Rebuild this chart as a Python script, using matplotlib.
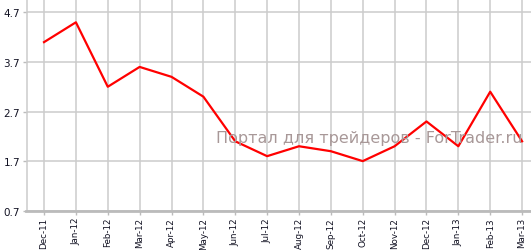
import matplotlib
matplotlib.use("Agg")
import matplotlib.pyplot as plt

# monthly values
months = ["Dec-11", "Jan-12", "Feb-12", "Mar-12", "Apr-12", "May-12", "Jun-12", "Jul-12",
          "Aug-12", "Sep-12", "Oct-12", "Nov-12", "Dec-12", "Jan-13", "Feb-13", "Mar-13"]
values = [4.1, 4.5, 3.2, 3.6, 3.4, 3.0, 2.1, 1.8, 2.0, 1.9, 1.7, 2.0, 2.5, 2.0, 3.1, 2.1]
y_ticks = [0.7, 1.7, 2.7, 3.7, 4.7]

fig = plt.figure(figsize=(5.31, 2.51), dpi=100)
ax = fig.add_axes([26.5 / 531, 39.3 / 251, 1 - 26.5 / 531, 1 - 39.3 / 251])

x = list(range(len(months)))
ax.plot(x, values, color="#ff0000", linewidth=1.6, zorder=3)

ax.set_xlim(-0.55, 15.28)
ax.set_ylim(0.7, 4.97)
ax.set_xticks(x)
ax.set_xticklabels(months, rotation=90, fontsize=6.3)
ax.set_yticks(y_ticks)
ax.set_yticklabels([str(v) for v in y_ticks], fontsize=7.5)
ax.grid(True, color="#cccccc", linewidth=1.1)
ax.set_axisbelow(True)

for side in ["top", "right"]:
    ax.spines[side].set_visible(False)
ax.spines["left"].set_color("#cccccc")
ax.spines["left"].set_linewidth(1.1)
ax.spines["bottom"].set_color("#bbbbbb")
ax.spines["bottom"].set_linewidth(2)
ax.tick_params(axis="both", colors="#bbbbbb", length=3, width=1, labelcolor="#111122", pad=1.5)

# watermark
fig.text(216 / 531, 1 - 143 / 251, "Портал для трейдеров - ForTrader.ru",
         fontsize=11.5, color="#a89898", ha="left", va="baseline", zorder=2)

fig.savefig("out.png", dpi=100)
